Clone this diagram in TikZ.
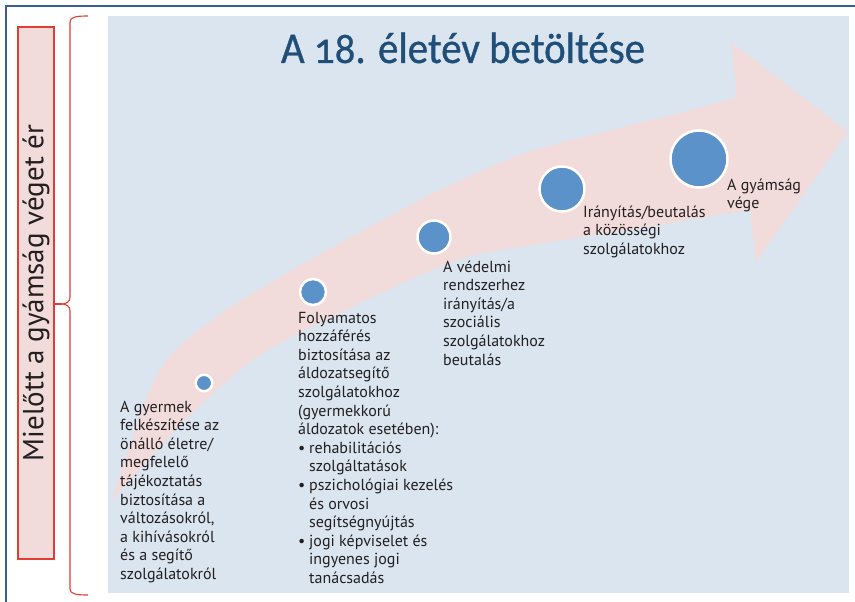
\documentclass[tikz,border=0pt]{standalone}
\usepackage{fontspec}
\setmainfont{PT Sans}
\newfontfamily\titlefont[Numbers=OldStyle,FakeStretch=0.93,FakeBold=0.8]{Carlito}
\definecolor{panel}{RGB}{219,229,239}
\definecolor{arrowpink}{RGB}{242,220,219}
\definecolor{dotblue}{RGB}{91,146,201}
\definecolor{frameblue}{RGB}{59,94,145}
\definecolor{bracered}{RGB}{227,60,50}
\definecolor{titleblue}{RGB}{31,78,121}
\definecolor{txt}{RGB}{35,31,32}
\newcommand{\bul}{\makebox[11pt][l]{•}}
\newcommand{\ind}{\hspace*{11pt}}
\newcommand{\tlines}[1]{\begin{tabular}[t]{@{}l@{}}#1\end{tabular}}
\begin{document}
\begin{tikzpicture}[x=1pt,y=-1pt,
  txtnode/.style={anchor=base west, inner sep=0pt, text=txt, font=\fontsize{16}{18.6}\selectfont},
  dot/.style={circle, fill=dotblue, draw=white, line width=2.5pt, inner sep=0pt},
  sidebox/.style={draw=bracered, line width=1.2pt, fill=arrowpink, inner sep=0pt, text=txt, font=\fontsize{29}{31}\selectfont},
  bracestyle/.style={draw=bracered, line width=1.1pt}]
\useasboundingbox (0,0) rectangle (855,602);
% outer frame
\draw[frameblue, line width=2pt] (6,602) -- (6,6) -- (855,6);
% panel
\fill[panel] (108,16) rectangle (849,593);
% curved arrow
\fill[arrowpink] plot[smooth, tension=0.55] coordinates {(112,500) (120,475) (160,370) (215,318) (275,280) (340,243) (434,193) (520,155) (600,133) (699,108) (737,97)}
  -- (731,42) -- (848,132) -- (756,262) -- (750,210)
  -- plot[smooth, tension=0.55] coordinates {(750,210) (640,228) (520,247) (467,257) (400,284) (330,318) (280,343) (240,370) (180,425) (135,475) (112,500)} -- cycle;
% title
\node[anchor=base, text=titleblue, font=\titlefont\fontsize{44}{50}\selectfont] (title) at (463,63) {A 18. életév betöltése};
% side box
\node[sidebox, rotate=90, minimum width=532pt, minimum height=36pt] (side) at (36,293) {Mielőtt a gyámság véget ér};
% brace
\coordinate (tip) at (62,304);
\draw[bracestyle] (88,16) .. controls (76,16) and (70,17) .. (70,22) -- (70,297)
  .. controls (70,302) and (66,304) .. (tip)
  .. controls (66,304) and (70,306) .. (70,311) -- (70,589)
  .. controls (70,594) and (76,595) .. (88,595);
\draw[bracestyle] (side.south |- tip) -- (tip);
% dots
\node[dot, minimum size=16.5pt] (d1) at (204,383) {};
\node[dot, minimum size=26pt] (d2) at (313,292) {};
\node[dot, minimum size=33pt] (d3) at (434,237) {};
\node[dot, minimum size=45pt] (d4) at (562,189) {};
\node[dot, minimum size=57pt] (d5) at (699,159) {};
% texts
\node[txtnode] (t1) at (120,412) {\tlines{A gyermek\\felkészítése az\\önálló életre/\\megfelelő\\tájékoztatás\\biztosítása a\\változásokról,\\a kihívásokról\\és a segítő\\szolgálatokról}};
\node[txtnode] (t2) at (298,323) {\tlines{Folyamatos\\hozzáférés\\biztosítása az\\áldozatsegítő\\szolgálatokhoz\\(gyermekkorú\\áldozatok esetében):\\\bul rehabilitációs\\\ind szolgáltatások\\\bul pszichológiai kezelés\\\ind és orvosi\\\ind segítségnyújtás\\\bul jogi képviselet és\\\ind ingyenes jogi\\\ind tanácsadás}};
\node[txtnode] (t3) at (443,272) {\tlines{A védelmi\\rendszerhez\\irányítás/a\\szociális\\szolgálatokhoz\\beutalás}};
\node[txtnode] (t4) at (583,217) {\tlines{Irányítás/beutalás\\a közösségi\\szolgálatokhoz}};
\node[txtnode] (t5) at (727,190) {\tlines{A gyámság\\vége}};
\end{tikzpicture}
\end{document}
